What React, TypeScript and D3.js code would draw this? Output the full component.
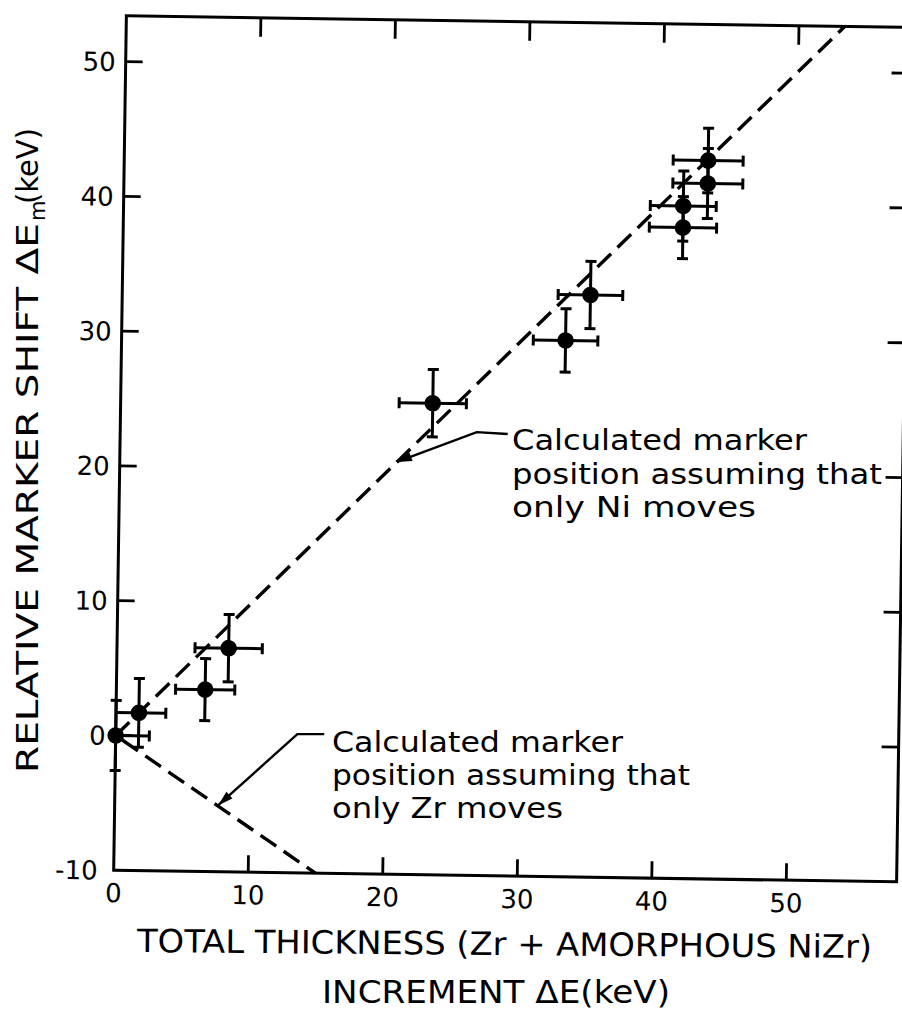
import React from 'react';
import * as d3 from 'd3';

// ---- data ----
const xValues = [0, 1.7, 6.6, 8.3, 23.2, 33.0, 34.8, 41.6, 41.6, 43.4, 43.4];
const yValues = [0, 1.7, 3.5, 6.6, 25.0, 29.8, 33.2, 38.3, 39.9, 41.6, 43.3];
const xErrors = [2.5, 2.0, 2.2, 2.5, 2.5, 2.4, 2.4, 2.5, 2.45, 2.6, 2.6];
const yErrors = [2.6, 2.55, 2.3, 2.5, 2.5, 2.35, 2.5, 2.3, 2.6, 2.6, 2.4];

const niLine: [number, number][] = [[0, 0], [53.4, 53.4]];
const zrLine: [number, number][] = [[0, 0], [15, -10]];

const xTickValues = [0, 10, 20, 30, 40, 50];
const yTickValues = [-10, 0, 10, 20, 30, 40, 50];

const niArrow: [number, number][] = [[28.8, 22.8], [26.5, 22.9], [20.6, 20.6]];
const zrArrow: [number, number][] = [[15.5, 0.33], [13.5, 0.3], [7.7, -5.06]];

const niLabel = ['Calculated marker', 'position assuming that', 'only Ni moves'];
const zrLabel = ['Calculated marker', 'position assuming that', 'only Zr moves'];

const xTitle1 = 'TOTAL THICKNESS (Zr + AMORPHOUS NiZr)';
const xTitle2 = 'INCREMENT ΔE(keV)';
const yTitleMain = 'RELATIVE MARKER SHIFT ΔE';
const yTitleSub = 'm';
const yTitleUnit = '(keV)';

// ---- layout ----
const W = 902;
const H = 1010;
const FONT = '"DejaVu Sans", sans-serif';
const X0 = 120, X1 = 903, Y0 = 876, Y1 = 21.5;
const TILT = 0.85;

const x = d3.scaleLinear().domain([0, 58.2]).range([X0, X1]);
const y = d3.scaleLinear().domain([-10, 53.4]).range([Y0, Y1]);

function arrowHead(pts: [number, number][]) {
  const a = pts[pts.length - 2];
  const b = pts[pts.length - 1];
  const ax = x(a[0]), ay = y(a[1]), bx = x(b[0]), by = y(b[1]);
  const dx = bx - ax, dy = by - ay;
  const len = Math.hypot(dx, dy);
  const ux = dx / len, uy = dy / len;
  const L = 15, hw = 4.5;
  const cx = bx - ux * L, cy = by - uy * L;
  return `M${bx},${by}L${cx - uy * hw},${cy + ux * hw}L${cx + uy * hw},${cy - ux * hw}Z`;
}

export default function App() {
  const line = d3.line<[number, number]>().x(d => x(d[0])).y(d => y(d[1]));
  const cap = 5.5;
  const tickLen = 17;

  return (
    <svg width={W} height={H} style={{ position: 'absolute', left: 0, top: 0, background: '#fff' }}
      fontFamily={FONT}>
      <rect x={0} y={0} width={W} height={H} fill="#fff" />
      <g transform={`rotate(${TILT} 506 448)`}>
        {/* frame */}
        <rect x={X0} y={Y1} width={X1 - X0} height={Y0 - Y1} fill="none" stroke="#000" strokeWidth={3} />
        {/* x ticks (bottom and top) */}
        {xTickValues.filter(v => v > 0).map(v => (
          <g key={'xt' + v}>
            <line x1={x(v)} x2={x(v)} y1={Y0} y2={Y0 - tickLen} stroke="#000" strokeWidth={2.8} />
            <line x1={x(v)} x2={x(v)} y1={Y1} y2={Y1 + tickLen + 2} stroke="#000" strokeWidth={2.8} />
          </g>
        ))}
        {/* y ticks (left and right) */}
        {yTickValues.filter(v => v > -10).map(v => (
          <g key={'yt' + v}>
            <line x1={X0} x2={X0 + tickLen} y1={y(v)} y2={y(v)} stroke="#000" strokeWidth={2.8} />
            <line x1={X1} x2={X1 - tickLen} y1={y(v)} y2={y(v)} stroke="#000" strokeWidth={2.8} />
          </g>
        ))}
        {/* tick labels */}
        {xTickValues.map(v => (
          <text key={'xl' + v} x={x(v)} y={908} fontSize={26} textAnchor="middle">{String(v)}</text>
        ))}
        {yTickValues.map(v => (
          <text key={'yl' + v} x={v === -10 ? 104 : 110} y={y(v) + 9.5} fontSize={26} textAnchor="end">
            {v === -10 ? '-10' : String(v)}
          </text>
        ))}
        {/* calculated lines */}
        <path d={line(niLine) || ''} fill="none" stroke="#000" strokeWidth={3.4} strokeDasharray="19 9" />
        <path d={line(zrLine) || ''} fill="none" stroke="#000" strokeWidth={3.4} strokeDasharray="19 9"
          strokeDashoffset={-8} />
        {/* leaders */}
        {[niArrow, zrArrow].map((pts, i) => (
          <g key={'ar' + i}>
            <path d={line(pts) || ''} fill="none" stroke="#000" strokeWidth={2.4} />
            <path d={arrowHead(pts)} fill="#000" />
          </g>
        ))}
        {/* data with error bars */}
        {xValues.map((xv, i) => {
          const yv = yValues[i];
          const px = x(xv), py = y(yv);
          const xl = Math.max(xv - xErrors[i], 0);
          const pxl = x(xl), pxr = x(xv + xErrors[i]);
          const pyt = y(yv + yErrors[i]), pyb = y(yv - yErrors[i]);
          return (
            <g key={'pt' + i} stroke="#000" strokeWidth={3}>
              <line x1={pxl} x2={pxr} y1={py} y2={py} />
              <line x1={px} x2={px} y1={pyt} y2={pyb} />
              {xv - xErrors[i] >= 0 && <line x1={pxl} x2={pxl} y1={py - cap} y2={py + cap} />}
              <line x1={pxr} x2={pxr} y1={py - cap} y2={py + cap} />
              <line x1={px - cap} x2={px + cap} y1={pyt} y2={pyt} />
              <line x1={px - cap} x2={px + cap} y1={pyb} y2={pyb} />
              <circle cx={px} cy={py} r={8.3} fill="#000" stroke="none" />
            </g>
          );
        })}
      </g>

      {/* annotation texts */}
      {niLabel.map((t, i) => (
        <text key={'ni' + i} x={512} y={[450, 484, 517][i]} fontSize={28}
          textLength={[295, 370, 244][i]} lengthAdjust="spacingAndGlyphs">{t}</text>
      ))}
      {zrLabel.map((t, i) => (
        <text key={'zr' + i} x={332} y={[752, 785, 818][i]} fontSize={28}
          textLength={[291, 358, 231][i]} lengthAdjust="spacingAndGlyphs">{t}</text>
      ))}

      {/* axis titles */}
      <text x={137} y={952} fontSize={32} transform="rotate(0.47 137 952)"
        textLength={735} lengthAdjust="spacingAndGlyphs">{xTitle1}</text>
      <text x={322} y={1003} fontSize={32} textLength={348} lengthAdjust="spacingAndGlyphs">{xTitle2}</text>

      <g transform="translate(38,0)">
        <text transform="translate(0,773) rotate(-90)" fontSize={30}
          textLength={550} lengthAdjust="spacingAndGlyphs">{yTitleMain}</text>
        <text transform="translate(7,221) rotate(-90)" fontSize={21}>{yTitleSub}</text>
        <text transform="translate(0,204) rotate(-90)" fontSize={30}
          textLength={76} lengthAdjust="spacingAndGlyphs">{yTitleUnit}</text>
      </g>
    </svg>
  );
}
